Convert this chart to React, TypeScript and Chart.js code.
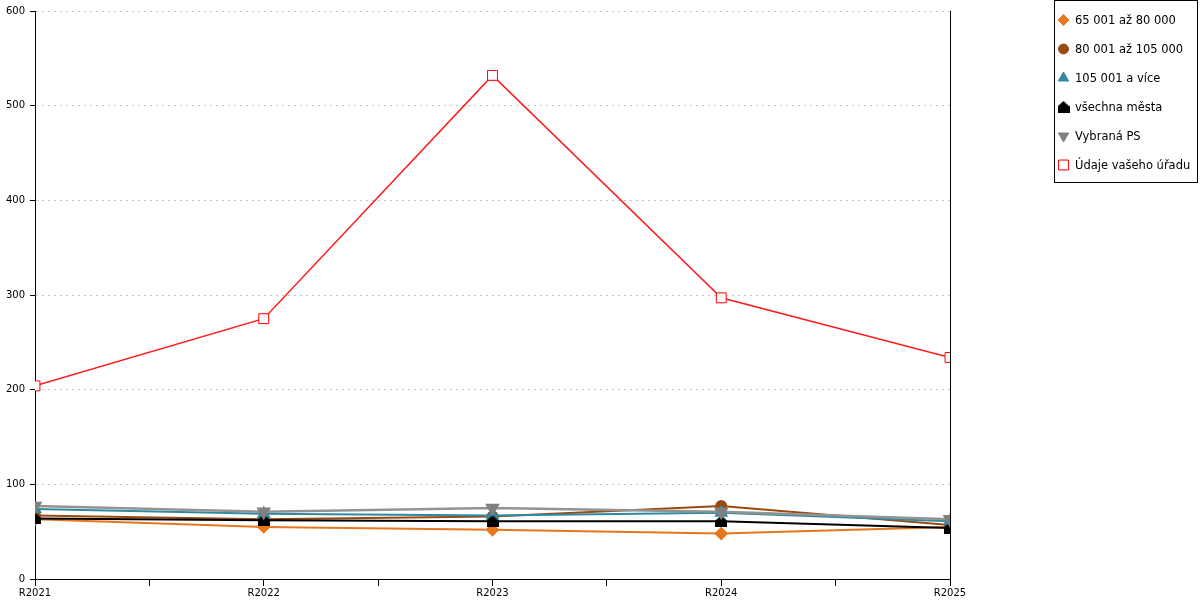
import { useEffect, useRef } from "react"
import { Chart, registerables } from "chart.js"
import { drawPoint } from "chart.js/helpers"

Chart.register(...registerables)

// roky na ose X
const categories = ["R2021", "R2022", "R2023", "R2024", "R2025"]

// hodnoty jednotlivých řad
const group65to80 = [63, 55, 52, 48, 55]
const group80to105 = [67, 63, 66, 77, 57]
const group105plus = [74, 69, 67, 70, 61]
const allCities = [64, 62, 61, 61, 54]
const selectedPS = [77, 71, 75, 71, 63]
const yourOffice = [204, 275, 532, 297, 234]

const yTicks = [0, 100, 200, 300, 400, 500, 600]

const FONT = "'DejaVu Sans', Verdana, sans-serif"

// černá značka ve tvaru domečku
function makeHouse(size: number, color: string) {
  const c = document.createElement("canvas")
  c.width = size
  c.height = size
  const g = c.getContext("2d")
  if (g) {
    g.fillStyle = color
    g.beginPath()
    g.moveTo(size / 2, 0)
    g.lineTo(size, size * 0.45)
    g.lineTo(size, size)
    g.lineTo(0, size)
    g.lineTo(0, size * 0.45)
    g.closePath()
    g.fill()
  }
  return c
}

const toPoints = (values: number[]) => values.map((y, i) => ({ x: i, y }))

// legenda v rámečku vpravo nahoře
const boxLegend = {
  id: "boxLegend",
  afterDraw(chart: any) {
    const ctx = chart.ctx as CanvasRenderingContext2D
    ctx.save()
    ctx.strokeStyle = "#000"
    ctx.lineWidth = 1
    ctx.strokeRect(1054.5, 0.5, 143, 182)
    ctx.font = `11.5px ${FONT}`
    ctx.textBaseline = "middle"
    ctx.textAlign = "left"
    chart.data.datasets.forEach((ds: any, i: number) => {
      const y = 20 + i * 29
      ctx.fillStyle = ds.pointBackgroundColor
      ctx.strokeStyle = ds.pointBorderColor
      ctx.lineWidth = 1
      drawPoint(
        ctx,
        {
          pointStyle: ds.pointStyle,
          rotation: ds.pointRotation || 0,
          radius: ds.pointRadius,
          borderWidth: 1,
        },
        1063.5,
        y
      )
      ctx.fillStyle = "#000"
      ctx.fillText(ds.label, 1075, y + 1)
    })
    ctx.restore()
  },
}

export default function App() {
  const chartRef = useRef<HTMLCanvasElement>(null)
  const chartInstance = useRef<Chart | null>(null)

  useEffect(() => {
    if (!chartRef.current) return
    if (chartInstance.current) chartInstance.current.destroy()

    const house = makeHouse(12, "#000")

    chartInstance.current = new Chart(chartRef.current, {
      type: "line",
      data: {
        datasets: [
          {
            label: "65 001 až 80 000",
            data: toPoints(group65to80),
            borderColor: "#e8761c",
            borderWidth: 2,
            pointStyle: "rectRot",
            pointRadius: 5.5,
            pointBackgroundColor: "#e8761c",
            pointBorderColor: "#e8761c",
            order: 6,
          },
          {
            label: "80 001 až 105 000",
            data: toPoints(group80to105),
            borderColor: "#9a4a10",
            borderWidth: 2,
            pointStyle: "circle",
            pointRadius: 5,
            pointBackgroundColor: "#9a4a10",
            pointBorderColor: "#9a4a10",
            order: 5,
          },
          {
            label: "105 001 a více",
            data: toPoints(group105plus),
            borderColor: "#2e8aa0",
            borderWidth: 2,
            pointStyle: "triangle",
            pointRadius: 6,
            pointBackgroundColor: "#2e8aa0",
            pointBorderColor: "#2e8aa0",
            order: 4,
          },
          {
            label: "všechna města",
            data: toPoints(allCities),
            borderColor: "#000",
            borderWidth: 2,
            pointStyle: house,
            pointRadius: 6,
            pointBackgroundColor: "#000",
            pointBorderColor: "#000",
            order: 3,
          },
          {
            label: "Vybraná PS",
            data: toPoints(selectedPS),
            borderColor: "#939393",
            borderWidth: 2.5,
            pointStyle: "triangle",
            pointRotation: 180,
            pointRadius: 6,
            pointBackgroundColor: "#808080",
            pointBorderColor: "#808080",
            order: 2,
          },
          {
            label: "Údaje vašeho úřadu",
            data: toPoints(yourOffice),
            borderColor: "#ff1a1a",
            borderWidth: 1.5,
            pointStyle: "rect",
            pointRadius: 7,
            pointBackgroundColor: "#fff",
            pointBorderColor: "#ff0000",
            pointBorderWidth: 1,
            order: 1,
          },
        ] as any,
      },
      options: {
        responsive: true,
        maintainAspectRatio: false,
        animation: false,
        layout: { padding: { top: 10, right: 250, left: 0, bottom: 0 } },
        elements: { line: { tension: 0 } },
        plugins: {
          legend: { display: false },
          tooltip: { enabled: false },
        },
        scales: {
          x: {
            type: "linear",
            min: 0,
            max: categories.length - 1,
            afterFit: (s: any) => {
              s.height = 21
            },
            ticks: {
              stepSize: 0.5,
              autoSkip: false,
              maxRotation: 0,
              padding: 1,
              color: "#000",
              font: { family: FONT, size: 10 },
              callback: (v: any) => (Number.isInteger(v) ? categories[v] : ""),
            },
            grid: {
              drawOnChartArea: false,
              tickColor: "#000",
              tickLength: 7,
            },
            border: { color: "#000" },
          },
          y: {
            min: yTicks[0],
            max: yTicks[yTicks.length - 1],
            afterFit: (s: any) => {
              s.width = 35
            },
            afterBuildTicks: (s: any) => {
              s.ticks = yTicks.map((value) => ({ value }))
            },
            ticks: {
              padding: 5,
              color: "#000",
              font: { family: FONT, size: 10 },
            },
            grid: {
              color: "#c4c4c4",
              tickColor: "#000",
              tickLength: 5,
            },
            border: { color: "#000", dash: [2, 4] },
          },
          y2: {
            position: "right",
            min: 0,
            max: 600,
            afterFit: (s: any) => {
              s.width = 0
            },
            ticks: { display: false },
            grid: { display: false },
            border: { color: "#000" },
          },
        },
      } as any,
      plugins: [boxLegend],
    })

    return () => {
      if (chartInstance.current) {
        chartInstance.current.destroy()
        chartInstance.current = null
      }
    }
  }, [])

  return (
    <div style={{ position: "absolute", left: 0, top: 0, width: 1200, height: 600, background: "#fff" }}>
      <canvas ref={chartRef} />
    </div>
  )
}
